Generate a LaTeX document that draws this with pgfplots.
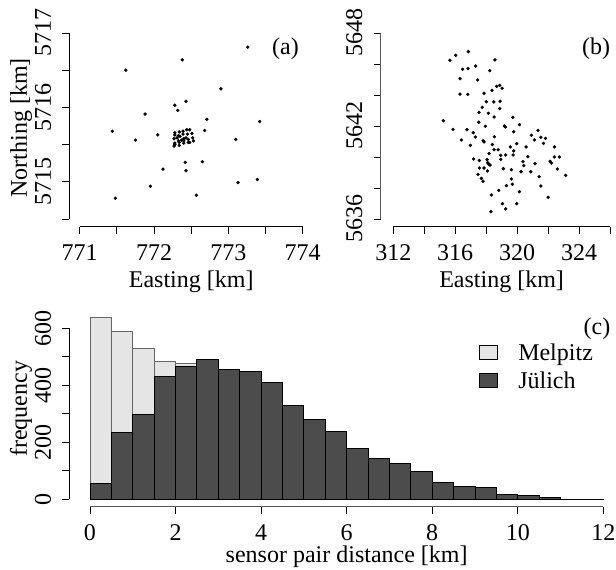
\documentclass[border=0pt]{standalone}
\usepackage{pgfplots}
\usepackage{fontspec}
\setmainfont{Liberation Serif}
\pgfplotsset{compat=1.18}
\newcommand{\fs}{\fontsize{24}{27}\selectfont}
\pgfplotsset{
  rstyle/.style={
    scale only axis, clip=false,
    axis x line=bottom, axis y line=left,
    axis line style={-,line width=0.9pt,black},
    tick align=outside, major tick length=7pt,
    tick style={line width=0.9pt,black},
    xtick pos=bottom, ytick pos=left,
    tick label style={font=\fs},
    label style={font=\fs},
    xticklabel style={anchor=base,yshift=-26.5pt},
    yticklabel style={rotate=90,anchor=base,yshift=11.5pt},
    every axis x label/.style={at={(axis description cs:0.5,0)},anchor=base},
    every axis y label/.style={at={(axis description cs:0,0.5)},rotate=90,anchor=base},
  }
}
\pgfplotstableread{
x y
773.26 5716.81
772.38 5716.64
771.62 5716.50
772.90 5716.25
772.43 5716.08
772.28 5716.03
772.32 5715.96
771.88 5715.91
772.71 5715.84
773.42 5715.81
771.44 5715.68
772.68 5715.69
772.05 5715.63
771.75 5715.56
773.10 5715.57
772.42 5715.26
772.65 5715.27
772.12 5715.17
772.43 5715.15
771.95 5714.94
773.13 5714.99
773.39 5715.03
771.48 5714.78
772.57 5714.82
772.28 5715.66
772.34 5715.67
772.39 5715.68
772.44 5715.70
772.48 5715.70
772.28 5715.63
772.33 5715.62
772.39 5715.64
772.45 5715.64
772.51 5715.65
772.27 5715.58
772.31 5715.59
772.35 5715.61
772.40 5715.58
772.43 5715.59
772.46 5715.57
772.52 5715.59
772.28 5715.52
772.33 5715.55
772.37 5715.56
772.40 5715.56
772.48 5715.53
772.53 5715.55
772.27 5715.48
772.34 5715.49
772.40 5715.52
772.46 5715.53
772.28 5715.50
772.34 5715.53
772.40 5715.55
}\tablea
\pgfplotstableread{
x y
316.85 5646.80
316.03 5646.56
315.66 5646.24
318.57 5646.26
317.32 5645.87
316.83 5645.70
316.48 5645.66
318.23 5645.57
316.31 5645.05
317.45 5644.97
318.88 5644.62
318.68 5644.56
319.03 5644.43
318.38 5644.30
317.86 5644.11
316.31 5644.06
316.81 5644.04
318.01 5643.57
318.49 5643.55
318.90 5643.59
317.75 5643.20
318.88 5643.12
317.54 5642.88
318.14 5642.82
318.51 5642.58
319.72 5642.56
315.23 5642.34
317.52 5642.24
317.95 5641.98
319.18 5642.00
319.24 5641.94
320.15 5642.09
315.86 5641.78
316.76 5641.76
317.17 5641.57
319.78 5641.63
321.35 5641.72
317.30 5641.29
318.53 5641.31
320.92 5641.40
321.53 5641.27
321.83 5641.20
321.12 5641.10
316.40 5641.10
317.80 5641.05
317.86 5640.97
321.70 5640.88
319.97 5640.86
316.98 5640.75
318.40 5640.80
319.56 5640.65
320.58 5640.65
322.41 5640.65
318.51 5640.47
318.77 5640.47
319.78 5640.39
318.19 5640.22
318.94 5640.11
319.26 5640.13
319.74 5640.13
320.69 5640.02
322.41 5640.00
322.73 5640.00
318.94 5639.85
317.19 5639.87
317.56 5639.78
318.06 5639.83
318.10 5639.63
320.38 5639.70
322.13 5639.72
322.22 5639.61
318.16 5639.55
318.25 5639.48
320.43 5639.44
321.16 5639.57
317.56 5639.29
317.86 5639.29
318.08 5639.10
319.11 5639.25
319.63 5639.18
320.25 5639.05
320.88 5639.05
322.60 5639.23
317.47 5638.88
317.69 5638.62
323.14 5638.82
321.42 5638.73
319.63 5638.58
317.80 5638.43
319.69 5638.24
319.31 5638.15
321.53 5638.13
318.81 5637.85
320.15 5637.76
318.34 5637.55
322.00 5637.40
319.05 5636.99
319.97 5636.99
319.26 5636.65
318.31 5636.47
}\tableb
\pgfplotstableread{
x y
0 637
0.5 588
1 530
1.5 483
2 476
2.5 0
}\melpitz
\pgfplotstableread{
x y
0 57
0.5 233
1 297
1.5 432
2 467
2.5 489
3 455
3.5 450
4 410
4.5 330
5 281
5.5 239
6 179
6.5 142
7 126
7.5 97
8 60
8.5 46
9 40
9.5 18
10 14
10.5 6
11 1
11.5 1
12 0
}\julich
\begin{document}
\fs
\begin{tikzpicture}
\path[use as bounding box] (0pt,0pt) rectangle (616pt,570pt);
% panel a
\begin{axis}[rstyle,at={(79.7pt,351pt)},anchor=south west,width=223pt,height=186pt,
  xmin=771,xmax=774,ymin=5714.5,ymax=5717,
  axis x line shift=7.7pt, axis y line shift=10.4pt,
  xtick={771,771.5,772,772.5,773,773.5,774},
  xticklabels={771,,772,,773,,774},
  ytick={5714.5,5715,5715.5,5716,5716.5,5717},
  yticklabels={,5715,,5716,,5717},
  xlabel={Easting [km]},ylabel={Northing [km]},
  xlabel style={yshift=-69pt},
  ylabel style={yshift=52.7pt,xshift=-2pt},
]
\addplot[only marks,mark=*,mark size=1.5pt,black] table {\tablea};
\end{axis}
% panel b
\begin{axis}[rstyle,at={(393.3pt,351pt)},anchor=south west,width=216.7pt,height=186pt,
  xmin=312,xmax=326,ymin=5636,ymax=5648,
  axis x line shift=7.7pt, axis y line shift=12.6pt,
  xtick={312,314,316,318,320,322,324,326},
  xticklabels={312,,316,,320,,324,},
  ytick={5636,5638,5640,5642,5644,5646,5648},
  yticklabels={5636,,,5642,,,5648},
  xlabel={Easting [km]},
  xlabel style={yshift=-69pt},
  y axis line style={line width=1.4pt,black!65},
]
\addplot[only marks,mark=*,mark size=1.5pt,black] table {\tableb};
\end{axis}
% panel c
\begin{axis}[rstyle,at={(90pt,70.7pt)},anchor=south west,width=513.3pt,height=171pt,
  xmin=0,xmax=12,ymin=0,ymax=600,
  axis x line shift=7.4pt, axis y line shift=20.7pt,
  xtick={0,2,4,6,8,10,12},
  xticklabels={0,2,4,6,8,10,12},
  ytick={0,100,200,300,400,500,600},
  yticklabels={0,,200,,400,,600},
  xlabel={sensor pair distance [km]},ylabel={frequency},
  xlabel style={yshift=-63pt},
  ylabel style={yshift=63pt,xshift=5pt},
  x axis line style={line width=1.4pt,black!65},
  legend cell align=left,
  legend style={at={(axis cs:9.1,561)},anchor=north west,draw=none,fill=none,font=\fs,
    row sep=0pt,inner sep=0pt,
    nodes={inner sep=2pt,minimum height=28pt}},
  legend image code/.code={\draw[#1,draw=black,line width=0.9pt] (0pt,-6pt) rectangle (17.4pt,8pt);},
]
\addplot[ybar interval,fill=black!10,draw=black!60,line width=0.9pt] table {\melpitz};
\addlegendentry{\hspace{18.5pt}Melpitz}
\addplot[ybar interval,fill=black!70,draw=black,line width=0.9pt] table {\julich};
\addlegendentry{\hspace{18.5pt}Jülich}
\end{axis}
\node[anchor=base] at (285.5pt,515pt) {(a)};
\node[anchor=base] at (596pt,515pt) {(b)};
\node[anchor=base] at (597pt,235pt) {(c)};
\end{tikzpicture}
\end{document}
